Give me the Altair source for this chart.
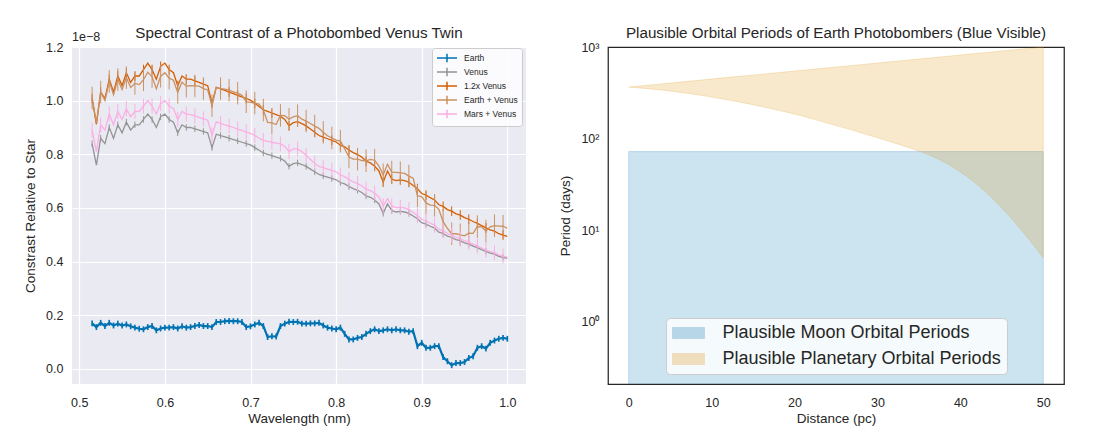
import altair as alt
import pandas as pd

# ---------------- left panel data (contrast in units of 1e-8) ----------------
wavelength = [round(0.515 + 0.005 * i, 3) for i in range(98)]

earth = [
    0.17, 0.156, 0.172, 0.16, 0.172, 0.162, 0.169, 0.162, 0.166, 0.159, 0.154, 0.15, 0.148, 0.156, 0.16, 0.144, 0.151, 0.154,
    0.154, 0.156, 0.151, 0.159, 0.154, 0.156, 0.16, 0.164, 0.16, 0.16, 0.156, 0.175, 0.175, 0.178, 0.179, 0.178, 0.178, 0.175, 0.156, 0.159,
    0.166, 0.172, 0.16, 0.119, 0.122, 0.121, 0.16, 0.169, 0.176, 0.175, 0.176, 0.169, 0.169, 0.17, 0.17, 0.172, 0.162, 0.154, 0.151, 0.148,
    0.154, 0.131, 0.11, 0.11, 0.116, 0.119, 0.131, 0.141, 0.148, 0.141, 0.144, 0.148, 0.144, 0.148, 0.144, 0.144, 0.139, 0.141, 0.085, 0.0975,
    0.079, 0.079, 0.085, 0.085, 0.044, 0.029, 0.014, 0.022, 0.022, 0.026, 0.041, 0.0475, 0.079, 0.085, 0.076, 0.0975, 0.106, 0.1125, 0.116, 0.1125,
]

venus = [
    0.84, 0.76, 0.86, 0.84, 0.90, 0.86, 0.91, 0.88, 0.92, 0.89, 0.91, 0.91, 0.93, 0.95, 0.93, 0.90, 0.94, 0.95,
    0.93, 0.92, 0.88, 0.91, 0.90, 0.90, 0.895, 0.89, 0.885, 0.88, 0.825, 0.875, 0.87, 0.865, 0.86, 0.855, 0.85, 0.845, 0.84, 0.835,
    0.825, 0.815, 0.805, 0.80, 0.795, 0.79, 0.785, 0.775, 0.755, 0.765, 0.768, 0.762, 0.755, 0.745, 0.735, 0.725, 0.72, 0.715, 0.71, 0.705,
    0.695, 0.69, 0.68, 0.672, 0.666, 0.658, 0.645, 0.64, 0.63, 0.615, 0.58, 0.615, 0.59, 0.585, 0.587, 0.585, 0.58, 0.57, 0.56, 0.545,
    0.54, 0.532, 0.525, 0.51, 0.505, 0.495, 0.49, 0.482, 0.478, 0.47, 0.465, 0.458, 0.452, 0.445, 0.438, 0.432, 0.428, 0.42, 0.416, 0.412,
]

mars = [
    0.05, 0.05, 0.05, 0.05, 0.05, 0.05, 0.05, 0.05, 0.05, 0.05, 0.05, 0.05, 0.05, 0.05, 0.05, 0.05, 0.05, 0.05,
    0.05, 0.05, 0.05, 0.05, 0.05, 0.048, 0.048, 0.048, 0.047, 0.047, 0.046, 0.046, 0.045, 0.045, 0.045, 0.045, 0.044, 0.044, 0.043, 0.043,
    0.045, 0.045, 0.047, 0.048, 0.05, 0.052, 0.054, 0.055, 0.055, 0.055, 0.052, 0.048, 0.042, 0.036, 0.032, 0.03, 0.03, 0.03, 0.03, 0.03,
    0.028, 0.027, 0.026, 0.025, 0.025, 0.025, 0.025, 0.025, 0.025, 0.026, 0.028, 0.02, 0.018, 0.016, 0.015, 0.015, 0.014, 0.013, 0.012, 0.012,
    0.012, 0.011, 0.011, 0.01, 0.01, 0.01, 0.009, 0.009, 0.008, 0.008, 0.007, 0.007, 0.006, 0.006, 0.005, 0.005, 0.005, 0.005, 0.005, 0.005,
]

series_names = ["Earth", "Venus", "1.2x Venus", "Earth + Venus", "Mars + Venus"]
series_colors = ["#0173b2", "#949494", "#d55e00", "#ca9161", "#fbafe4"]
series_err = [0.011, 0.012, 0.018, 0.042, 0.028]
series_errevery = [1, 2, 2, 2, 2]
series_width = [2.2, 1.3, 1.3, 1.3, 1.3]

series_values = {
    "Earth": earth,
    "Venus": venus,
    "1.2x Venus": [1.2 * v for v in venus],
    "Earth + Venus": [e + v for e, v in zip(earth, venus)],
    "Mars + Venus": [m + v for m, v in zip(mars, venus)],
}

rows = []
for name, err, every in zip(series_names, series_err, series_errevery):
    for i, (w, v) in enumerate(zip(wavelength, series_values[name])):
        rows.append({"series": name, "w": w, "v": v, "lo": v - err, "hi": v + err, "bar": i % every == 0})
spec_df = pd.DataFrame(rows)

# ---------------- right panel data ----------------
moon_label = "Plausible Moon Orbital Periods"
planet_label = "Plausible Planetary Orbital Periods"
moon_d = [0, 50]
moon_hi = [72, 72]
moon_lo = [0.01, 0.01]
planet_d = [0, 4.7, 8.7, 12.7, 16.7, 20.7, 24.7, 28.8, 32.8, 35.2, 36.8, 38.8, 40.8, 42.8, 44.8, 46.8, 48.8, 50]
planet_lo = [365, 333, 296.5, 257, 217, 178, 141, 110, 85, 72, 63, 50.7, 38.5, 27.4, 18.2, 11.5, 6.9, 5.0]
planet_hi = [365, 401, 435, 472, 511, 554, 600, 652, 707, 742, 766, 798, 831, 865, 901, 938, 976, 1000]

moon_df = pd.DataFrame({"d": moon_d, "lo": moon_lo, "hi": moon_hi, "kind": moon_label})
planet_df = pd.DataFrame({"d": planet_d, "lo": planet_lo, "hi": planet_hi, "kind": planet_label})

FONT = "Liberation Sans"
TXT = "#262626"
LEFT_W, RIGHT_W, H = 454, 456, 337


def title_text(text, width):
    return alt.Chart(pd.DataFrame({"t": [text]})).mark_text(
        align="center", baseline="alphabetic", fontSize=15.2, font=FONT, color=TXT
    ).encode(x=alt.value(width / 2), y=alt.value(-9), text="t:N")


# ---------------- left panel ----------------
x_left = alt.X(
    "w:Q",
    scale=alt.Scale(domain=[0.4915, 1.0218], nice=False, zero=False),
    axis=alt.Axis(values=[0.5, 0.6, 0.7, 0.8, 0.9, 1.0], format=".1f", title="Wavelength (nm)",
                  grid=True, gridColor="white", gridWidth=1.2, domain=False, ticks=False,
                  labelPadding=12, titlePadding=3),
)
y_title = "Constrast Relative to Star"
y_axis = alt.Axis(values=[0, 0.2, 0.4, 0.6, 0.8, 1.0, 1.2], format=".1f", title=y_title,
                  grid=True, gridColor="white", gridWidth=1.2, domain=False, ticks=False,
                  labelPadding=9, titlePadding=8)
y_scale = alt.Scale(domain=[-0.056, 1.2], nice=False, zero=False)

color = alt.Color(
    "series:N",
    scale=alt.Scale(domain=series_names, range=series_colors),
    legend=alt.Legend(
        orient="none", legendX=360, legendY=1, title=None,
        symbolType="M-2,0H2M0,-0.85V0.85", symbolSize=100, symbolStrokeWidth=1.5,
        symbolOffset=5, labelOffset=11,
        labelFontSize=8.5, labelFont=FONT, labelColor=TXT,
        fillColor="rgba(255,255,255,0.8)", strokeColor="#cccccc", cornerRadius=3,
        padding=4, rowPadding=-4.6,
    ),
)

base = alt.Chart(spec_df)
left_layers = []
for name, sw in zip(series_names, series_width):
    sub = base.transform_filter(alt.datum.series == name)
    left_layers.append(
        sub.mark_line(strokeWidth=sw).encode(
            x=x_left, y=alt.Y("v:Q", scale=y_scale, axis=y_axis, title=y_title), color=color
        )
    )
    left_layers.append(
        sub.transform_filter(alt.datum.bar).mark_rule(strokeWidth=sw * 0.75).encode(
            x=x_left, y=alt.Y("lo:Q", scale=y_scale, axis=y_axis, title=y_title), y2="hi:Q", color=color
        )
    )

offset_text = alt.Chart(pd.DataFrame({"t": ["1e\u22128"]})).mark_text(
    align="left", baseline="alphabetic", fontSize=12.5, font=FONT, color=TXT
).encode(x=alt.value(0), y=alt.value(-6), text="t:N")
left_layers.append(offset_text)
left_layers.append(title_text("Spectral Contrast of a Photobombed Venus Twin", LEFT_W))

left = alt.layer(*left_layers).properties(
    width=LEFT_W, height=H,
    view=alt.ViewBackground(fill="#eaeaf2", strokeWidth=0),
)

# ---------------- right panel ----------------
x_right = alt.X(
    "d:Q",
    scale=alt.Scale(domain=[-2.5, 52.5], nice=False, zero=False),
    axis=alt.Axis(values=[0, 10, 20, 30, 40, 50], title="Distance (pc)", grid=False, domain=False,
                  ticks=False, labelPadding=12, titlePadding=3),
)
y_right_scale = alt.Scale(type="log", domain=[0.208, 1000], nice=False)
y_right_axis = alt.Axis(
    values=[1, 10, 100, 1000], title="Period (days)", grid=False, domain=False, ticks=False,
    labelPadding=9, titlePadding=8,
    labelExpr="datum.value == 1 ? '10\u2070' : datum.value == 10 ? '10\u00b9' : datum.value == 100 ? '10\u00b2' : '10\u00b3'",
)
fill = alt.Fill(
    "kind:N",
    scale=alt.Scale(domain=[moon_label, planet_label], range=["#0173b2", "#de8f05"]),
    legend=alt.Legend(
        orient="none", legendX=58, legendY=271, title=None,
        symbolType="M-2.9,-1H2.9V1H-2.9Z", symbolSize=121, symbolOpacity=0.25, symbolStrokeWidth=1,
        symbolOffset=7.5, labelOffset=25,
        labelFontSize=18, labelFont=FONT, labelColor=TXT, labelLimit=500,
        fillColor="rgba(255,255,255,0.8)", strokeColor="#cccccc", cornerRadius=4,
        padding=6, rowPadding=8,
    ),
)
stroke = alt.Stroke(
    "kind:N",
    scale=alt.Scale(domain=[moon_label, planet_label], range=["#0173b2", "#de8f05"]),
    legend=None,
)

moon = alt.Chart(moon_df).mark_area(fillOpacity=0.2, strokeOpacity=0.2, strokeWidth=1, clip=True).encode(
    x=x_right, y=alt.Y("hi:Q", scale=y_right_scale, axis=y_right_axis), y2="lo:Q", fill=fill, stroke=stroke
)
planet = alt.Chart(planet_df).mark_area(
    fillOpacity=0.2, strokeOpacity=0.2, strokeWidth=1, clip=True, interpolate="monotone"
).encode(
    x=x_right, y=alt.Y("hi:Q", scale=y_right_scale, axis=y_right_axis), y2="lo:Q", fill=fill, stroke=stroke
)

right = alt.layer(
    moon, planet, title_text("Plausible Orbital Periods of Earth Photobombers (Blue Visible)", RIGHT_W)
).properties(
    width=RIGHT_W, height=H,
    view=alt.ViewBackground(fill="white", stroke="#262626", strokeWidth=1.25),
)

chart = (
    alt.hconcat(left, right, spacing=32)
    .resolve_scale(color="independent", fill="independent", stroke="independent")
    .properties(padding={"left": 15, "top": 17, "right": 5, "bottom": 5}, background="white")
    .configure(font=FONT)
    .configure_axis(labelFont=FONT, titleFont=FONT, labelFontSize=12.5, titleFontSize=13.5,
                    labelColor=TXT, titleColor=TXT, titleFontWeight="normal")
)

chart.save("out.html", embed_options={"renderer": "svg", "actions": False})
